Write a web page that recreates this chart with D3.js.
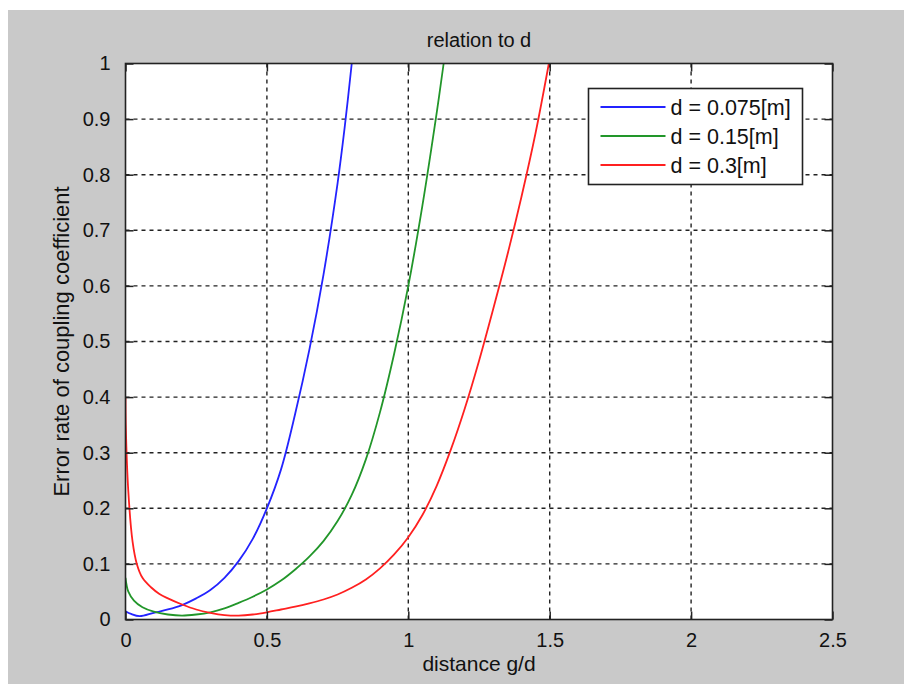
<!DOCTYPE html>
<html lang="en">
  <head>
    <meta charset="UTF-8" />
    <title>relation to d</title>
    <style>
      body {
        margin: 0;
        background-color: white;
      }
      svg text {
        font-family: "Liberation Sans", Arial, sans-serif;
        fill: #111;
      }
    </style>
  </head>
  <body>
    <script src="https://d3js.org/d3.v7.min.js"></script>
    <svg id="chart" width="904" height="684"></svg>
    <script>
      // series: [g/d, error rate]
      var blueData = [
        [0, 0.015], [0.02, 0.01], [0.05, 0.006], [0.1, 0.012], [0.15, 0.018],
        [0.2, 0.026], [0.25, 0.038], [0.3, 0.053], [0.35, 0.075], [0.4, 0.105],
        [0.45, 0.145], [0.5, 0.2], [0.55, 0.27], [0.6, 0.37], [0.65, 0.485],
        [0.7, 0.62], [0.75, 0.785], [0.775, 0.885], [0.8, 1.0]
      ];
      var greenData = [
        [0, 0.075], [0.01, 0.05], [0.03, 0.034], [0.06, 0.022], [0.1, 0.014],
        [0.15, 0.009], [0.2, 0.007], [0.25, 0.009], [0.3, 0.013], [0.35, 0.02],
        [0.4, 0.03], [0.45, 0.041], [0.5, 0.054], [0.55, 0.07], [0.6, 0.09],
        [0.65, 0.113], [0.7, 0.141], [0.75, 0.177], [0.8, 0.224], [0.85, 0.288],
        [0.9, 0.373], [0.95, 0.478], [1.0, 0.6], [1.05, 0.745], [1.1, 0.91],
        [1.125, 1.0]
      ];
      var redData = [
        [0, 0.4], [0.001, 0.35], [0.01, 0.23], [0.025, 0.14], [0.04, 0.1],
        [0.06, 0.075], [0.09, 0.058], [0.12, 0.046], [0.15, 0.038], [0.2, 0.027],
        [0.25, 0.018], [0.3, 0.012], [0.35, 0.008], [0.4, 0.007], [0.45, 0.009],
        [0.5, 0.013], [0.55, 0.018], [0.6, 0.023], [0.65, 0.029], [0.7, 0.036],
        [0.75, 0.045], [0.8, 0.057], [0.85, 0.072], [0.9, 0.092], [0.95, 0.117],
        [1.0, 0.148], [1.05, 0.188], [1.1, 0.24], [1.15, 0.305], [1.2, 0.38],
        [1.25, 0.465], [1.3, 0.558], [1.35, 0.655], [1.4, 0.76], [1.45, 0.875],
        [1.497, 1.0]
      ];

      var seriesNames = ["d = 0.075[m]", "d = 0.15[m]", "d = 0.3[m]"];
      var seriesColors = ["#2323ff", "#22962a", "#ff2020"];
      var allSeries = [blueData, greenData, redData];

      var xTicks = [0, 0.5, 1, 1.5, 2, 2.5];
      var yTicks = [0, 0.1, 0.2, 0.3, 0.4, 0.5, 0.6, 0.7, 0.8, 0.9, 1];

      var svg = d3.select("#chart");

      // figure background (gray panel, thin white margin top/left)
      svg.append("rect")
        .attr("x", 8).attr("y", 10)
        .attr("width", 896).attr("height", 674)
        .attr("fill", "#c9c9c9");

      var plotLeft = 125.5, plotRight = 832.5, plotTop = 63.5, plotBottom = 619.5;

      var x = d3.scaleLinear().domain([0, 2.5]).range([plotLeft, plotRight]);
      var y = d3.scaleLinear().domain([0, 1]).range([plotBottom, plotTop]);

      // plot area
      svg.append("rect")
        .attr("x", plotLeft).attr("y", plotTop)
        .attr("width", plotRight - plotLeft).attr("height", plotBottom - plotTop)
        .attr("fill", "white");

      // grid
      var grid = svg.append("g")
        .attr("stroke", "#222")
        .attr("stroke-width", 1.4)
        .attr("stroke-dasharray", "4,4");
      grid.selectAll(".vg")
        .data(xTicks.slice(1, -1))
        .enter().append("line")
        .attr("x1", d => x(d)).attr("x2", d => x(d))
        .attr("y1", plotTop).attr("y2", plotBottom);
      grid.selectAll(".hg")
        .data(yTicks.slice(1, -1))
        .enter().append("line")
        .attr("x1", plotLeft).attr("x2", plotRight)
        .attr("y1", d => y(d)).attr("y2", d => y(d));

      // curves
      svg.append("clipPath").attr("id", "clip")
        .append("rect")
        .attr("x", plotLeft).attr("y", plotTop)
        .attr("width", plotRight - plotLeft).attr("height", plotBottom - plotTop);

      var line = d3.line()
        .x(d => x(d[0]))
        .y(d => y(d[1]))
        .curve(d3.curveCatmullRom.alpha(0.5));

      svg.append("g")
        .attr("clip-path", "url(#clip)")
        .selectAll("path")
        .data(allSeries)
        .enter().append("path")
        .attr("d", line)
        .attr("fill", "none")
        .attr("stroke", (d, i) => seriesColors[i])
        .attr("stroke-width", 1.8);

      // axes, MATLAB box style with inward ticks on all sides
      var tickLen = 8;
      var axisBottom = d3.axisBottom(x).tickValues(xTicks).tickSize(-tickLen).tickPadding(13)
        .tickFormat(d3.format("~g"));
      var axisTop = d3.axisTop(x).tickValues(xTicks).tickSize(-tickLen).tickFormat("");
      var axisLeft = d3.axisLeft(y).tickValues(yTicks).tickSize(-tickLen).tickPadding(15)
        .tickFormat(d3.format("~g"));
      var axisRight = d3.axisRight(y).tickValues(yTicks).tickSize(-tickLen).tickFormat("");

      function styleAxis(g) {
        g.select(".domain").remove();
        g.selectAll("line").attr("stroke", "#222").attr("stroke-width", 1.5);
        g.selectAll("text")
          .attr("font-family", "'Liberation Sans', Arial, sans-serif")
          .attr("font-size", 20)
          .attr("fill", "#111");
      }

      svg.append("g").attr("transform", "translate(0," + plotBottom + ")").call(axisBottom).call(styleAxis);
      svg.append("g").attr("transform", "translate(0," + plotTop + ")").call(axisTop).call(styleAxis);
      svg.append("g").attr("transform", "translate(" + plotLeft + ",0)").call(axisLeft).call(styleAxis);
      svg.append("g").attr("transform", "translate(" + plotRight + ",0)").call(axisRight).call(styleAxis);

      svg.append("rect")
        .attr("x", plotLeft).attr("y", plotTop)
        .attr("width", plotRight - plotLeft).attr("height", plotBottom - plotTop)
        .attr("fill", "none")
        .attr("stroke", "#222")
        .attr("stroke-width", 1.6);

      // legend
      var legend = svg.append("g").attr("transform", "translate(588.5,88.5)");
      legend.append("rect")
        .attr("width", 214).attr("height", 96)
        .attr("fill", "white")
        .attr("stroke", "#222")
        .attr("stroke-width", 1.6);
      var rows = legend.selectAll(".row")
        .data(seriesNames)
        .enter().append("g")
        .attr("transform", (d, i) => "translate(0," + (18.5 + i * 29) + ")");
      rows.append("line")
        .attr("x1", 12).attr("x2", 77)
        .attr("stroke", (d, i) => seriesColors[i])
        .attr("stroke-width", 1.8);
      rows.append("text")
        .attr("x", 82).attr("y", 7.5)
        .attr("font-size", 21.5)
        .text(d => d);

      // titles
      svg.append("text")
        .attr("x", (plotLeft + plotRight) / 2).attr("y", 47)
        .attr("text-anchor", "middle")
        .attr("font-size", 20)
        .text("relation to d");

      svg.append("text")
        .attr("x", (plotLeft + plotRight) / 2).attr("y", 671)
        .attr("text-anchor", "middle")
        .attr("font-size", 21)
        .text("distance g/d");

      svg.append("text")
        .attr("transform", "translate(69," + (plotBottom + plotTop) / 2 + ") rotate(-90)")
        .attr("text-anchor", "middle")
        .attr("font-size", 22)
        .text("Error rate of coupling coefficient");
    </script>
  </body>
</html>
